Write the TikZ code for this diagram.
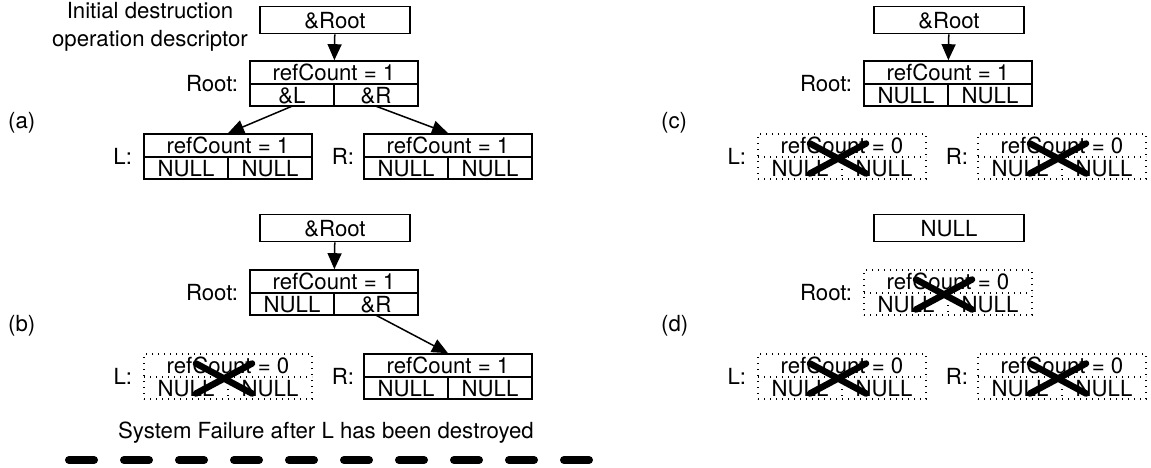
\documentclass[tikz,border=0pt]{standalone}
\usepackage{fontspec}
\setmainfont{TeX Gyre Heros}
\usetikzlibrary{arrows.meta}
\tikzset{
 txt/.style={inner sep=0pt, font=\fontsize{22.2pt}{26pt}\selectfont, text height=16pt, text depth=0pt},
 cellbox/.style={txt, minimum width=84pt, minimum height=22pt},
 topcell/.style={txt, minimum width=168pt, minimum height=23pt},
 frame/.style={draw, minimum width=168pt, minimum height=45pt, inner sep=0pt},
 solidrec/.style={line width=1.6pt},
 dottedrec/.style={line width=1.4pt, dash pattern=on 1.4pt off 4.6pt},
 ptrbox/.style={draw, line width=1.6pt, txt, minimum width=150pt, minimum height=27pt},
 arr/.style={line width=1.5pt, -{Triangle[length=16pt,width=14pt]}},
 crossline/.style={line width=6.5pt, line cap=round},
 lbl/.style={txt, anchor=east},
 plabel/.style={txt, anchor=west},
 dashline/.style={line width=8pt, line cap=round, dash pattern=on 25pt off 30pt},
}
\newcommand\recd[7]{%
 \node[frame,#2] (#1) at (#3,#4+22.5) {};
 \draw[#2] (#3-84,#4+23) -- (#3+84,#4+23);
 \draw[#2] (#3,#4+23) -- (#3,#4+45);
 \node[topcell] (#1-t) at (#3,#4+11.5) {#5};
 \node[cellbox] (#1-l) at (#3-42,#4+34) {#6};
 \node[cellbox] (#1-r) at (#3+42,#4+34) {#7};
}
\newcommand\crossout[1]{%
 \draw[crossline] ([shift={(-32,17)}]#1.center) -- ([shift={(24,-13)}]#1.center);
 \draw[crossline] ([shift={(-32,-13)}]#1.center) -- ([shift={(24,17)}]#1.center);
}
\begin{document}
\begin{tikzpicture}[x=1pt,y=-1pt]
\useasboundingbox (0,0) rectangle (1151,467);
% ---------- (a)
\node[align=center, inner sep=0pt, font=\fontsize{22.2pt}{28pt}\selectfont] (desc) at (150,27) {Initial destruction\\operation descriptor};
\node[ptrbox] (ptrA) at (335,20) {\&Root};
\recd{rootA}{solidrec}{334}{61}{refCount = 1}{\&L}{\&R}
\recd{LA}{solidrec}{228}{134}{refCount = 1}{NULL}{NULL}
\recd{RA}{solidrec}{448}{134}{refCount = 1}{NULL}{NULL}
\node[lbl] (rootA-lbl) at ([xshift=-11pt]rootA.west) {Root:};
\node[lbl] (LA-lbl) at ([xshift=-11pt]LA.west) {L:};
\node[lbl] (RA-lbl) at ([xshift=-9pt]RA.west) {R:};
\node[plabel] (la) at (8,120) {(a)};
\draw[arr] (ptrA) -- (rootA);
\draw[arr] (rootA-l.south) -- (LA.north);
\draw[arr] (rootA-r.south) -- (RA.north);
% ---------- (b)
\node[ptrbox] (ptrB) at (335,228) {\&Root};
\recd{rootB}{solidrec}{334}{270}{refCount = 1}{NULL}{\&R}
\recd{LB}{dottedrec}{228}{354}{refCount = 0}{NULL}{NULL}
\recd{RB}{solidrec}{448}{354}{refCount = 1}{NULL}{NULL}
\crossout{LB}
\node[lbl] (rootB-lbl) at ([xshift=-11pt]rootB.west) {Root:};
\node[lbl] (LB-lbl) at ([xshift=-11pt]LB.west) {L:};
\node[lbl] (RB-lbl) at ([xshift=-9pt]RB.west) {R:};
\node[plabel] (lb) at (8,323) {(b)};
\draw[arr] (ptrB) -- (rootB);
\draw[arr] (rootB-r.south) -- (RB.north);
\node[txt] (fail) at (326,430) {System Failure after L has been destroyed};
\coordinate (d1) at (69,460);
\coordinate (d2) at (589,460);
\draw[dashline] (d1) -- (d2);
% ---------- (c)
\node[ptrbox] (ptrC) at (949,20) {\&Root};
\recd{rootC}{solidrec}{948}{61}{refCount = 1}{NULL}{NULL}
\recd{LC}{dottedrec}{842}{134}{refCount = 0}{NULL}{NULL}
\recd{RC}{dottedrec}{1062}{134}{refCount = 0}{NULL}{NULL}
\crossout{LC}
\crossout{RC}
\node[lbl] (rootC-lbl) at ([xshift=-11pt]rootC.west) {Root:};
\node[lbl] (LC-lbl) at ([xshift=-11pt]LC.west) {L:};
\node[lbl] (RC-lbl) at ([xshift=-9pt]RC.west) {R:};
\node[plabel] (lc) at (661,120) {(c)};
\draw[arr] (ptrC) -- (rootC);
% ---------- (d)
\node[ptrbox] (ptrD) at (949,228) {NULL};
\recd{rootD}{dottedrec}{948}{270}{refCount = 0}{NULL}{NULL}
\recd{LD}{dottedrec}{842}{354}{refCount = 0}{NULL}{NULL}
\recd{RD}{dottedrec}{1062}{354}{refCount = 0}{NULL}{NULL}
\crossout{rootD}
\crossout{LD}
\crossout{RD}
\node[lbl] (rootD-lbl) at ([xshift=-11pt]rootD.west) {Root:};
\node[lbl] (LD-lbl) at ([xshift=-11pt]LD.west) {L:};
\node[lbl] (RD-lbl) at ([xshift=-9pt]RD.west) {R:};
\node[plabel] (ld) at (661,323) {(d)};
\end{tikzpicture}
\end{document}
